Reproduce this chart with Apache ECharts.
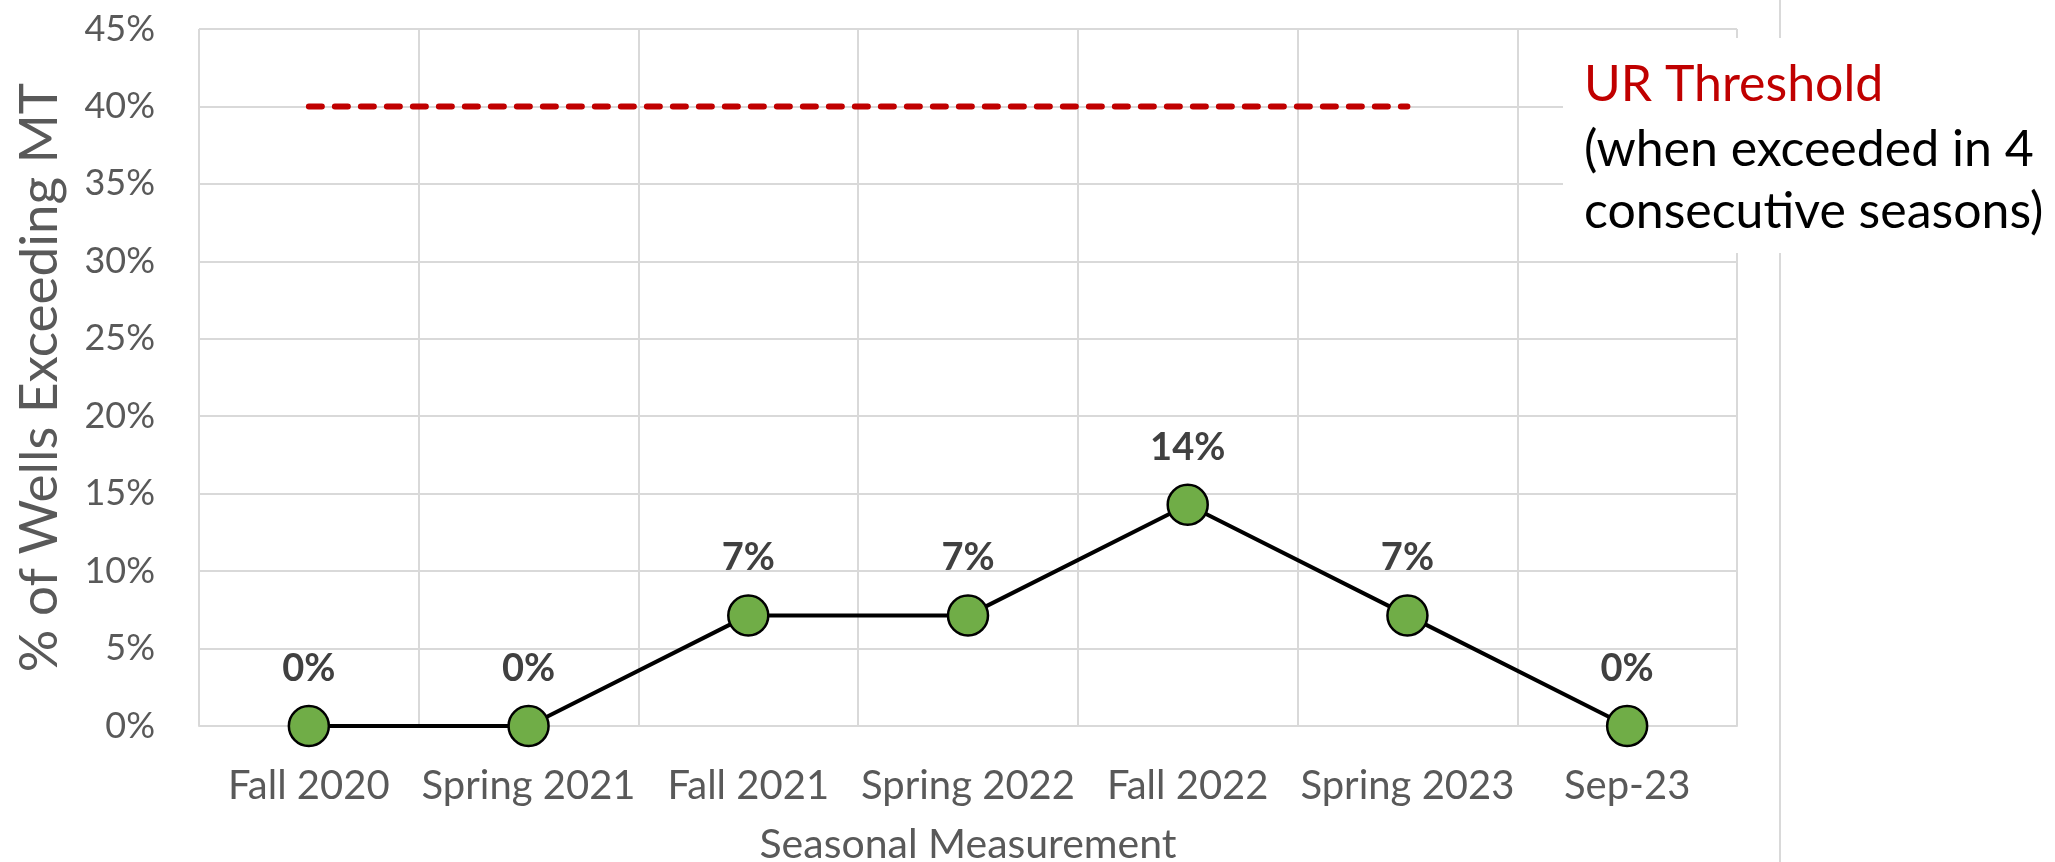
<!DOCTYPE html>
<html>
<head>
<meta charset="utf-8">
<title>% of Wells Exceeding MT</title>
<script src="https://cdn.jsdelivr.net/npm/echarts@6/dist/echarts.min.js"></script>
<style>
  html, body { margin: 0; padding: 0; background: #fff; }
  #chart { width: 2055px; height: 862px; }
</style>
</head>
<body>
<div id="chart"></div>
<script>
// seasonal measurements (x axis)
const seasons = ['Fall 2020', 'Spring 2021', 'Fall 2021', 'Spring 2022', 'Fall 2022', 'Spring 2023', 'Sep-23']
// % of wells exceeding MT, one per season (1 of 14 wells = 7%)
const pctExceeding = [0, 0, 7.14, 7.14, 14.29, 7.14, 0]
// UR threshold line, drawn from first season up to Spring 2023
const urThreshold = [40, 40, 40, 40, 40, 40, null]
// y axis range
const yMin = 0
const yMax = 45
const yStep = 5

const gray = '#595959'
const gridGray = '#d9d9d9'
const baseFont = 'Lato, "Open Sans", sans-serif'

const chart = echarts.init(document.getElementById('chart'), null, { renderer: 'canvas' })

const option = {
  backgroundColor: '#fff',
  animation: false,
  grid: {
    left: 199,
    right: 318,
    top: 29,
    bottom: 136,
    containLabel: false,
    outerBoundsMode: 'none'
  },
  xAxis: {
    type: 'category',
    data: seasons,
    boundaryGap: true,
    name: 'Seasonal Measurement',
    nameLocation: 'middle',
    nameGap: 98,
    nameTextStyle: { color: gray, fontSize: 41, fontFamily: baseFont },
    axisLine: { show: true, lineStyle: { color: gridGray, width: 2 } },
    axisTick: { show: false },
    axisLabel: { color: gray, fontSize: 40, fontFamily: baseFont, margin: 40, interval: 0 },
    splitLine: { show: true, interval: 0, lineStyle: { color: gridGray, width: 2 } }
  },
  yAxis: {
    type: 'value',
    min: yMin,
    max: yMax,
    interval: yStep,
    name: '% of Wells Exceeding MT',
    nameLocation: 'middle',
    nameGap: 133,
    nameRotate: 90,
    nameTextStyle: { color: gray, fontSize: 53, fontFamily: baseFont },
    axisLine: { show: false },
    axisTick: { show: false },
    axisLabel: { color: gray, fontSize: 36, fontFamily: baseFont, margin: 44, formatter: '{value}%' },
    splitLine: { show: true, lineStyle: { color: gridGray, width: 2 } }
  },
  series: [
    {
      name: 'UR Threshold',
      type: 'line',
      data: urThreshold,
      symbol: 'none',
      z: 3,
      lineStyle: { color: '#c00000', width: 6, type: [13, 13], cap: 'round' }
    },
    {
      name: '% of Wells Exceeding MT',
      type: 'line',
      data: pctExceeding,
      symbol: 'circle',
      symbolSize: 40,
      z: 4,
      lineStyle: { color: '#000', width: 4 },
      itemStyle: { color: '#70ad47', borderColor: '#000', borderWidth: 2.5 },
      label: {
        show: true,
        position: 'top',
        distance: 17,
        color: '#404040',
        fontSize: 38,
        fontWeight: 'bold',
        fontFamily: baseFont,
        formatter: p => Math.round(p.value) + '%'
      }
    }
  ],
  graphic: [
    // slide divider on the right
    { type: 'line', shape: { x1: 1780, y1: 0, x2: 1780, y2: 862 }, style: { stroke: gridGray, lineWidth: 2 }, z: 1 },
    // white text box covering the grid
    { type: 'rect', shape: { x: 1563, y: 38, width: 492, height: 215 }, style: { fill: '#fff' }, z: 10 },
    {
      type: 'text', x: 1584, y: 85, z: 11,
      style: { text: 'UR Threshold', fill: '#c00000', font: '50px ' + baseFont, verticalAlign: 'middle' }
    },
    {
      type: 'text', x: 1584, y: 150, z: 11,
      style: { text: '(when exceeded in 4', fill: '#000', font: '50px ' + baseFont, verticalAlign: 'middle' }
    },
    {
      type: 'text', x: 1584, y: 212, z: 11,
      style: { text: 'consecutive seasons)', fill: '#000', font: '50px ' + baseFont, verticalAlign: 'middle' }
    }
  ]
}

chart.setOption(option)
window.addEventListener('resize', () => chart.resize())
</script>
</body>
</html>
